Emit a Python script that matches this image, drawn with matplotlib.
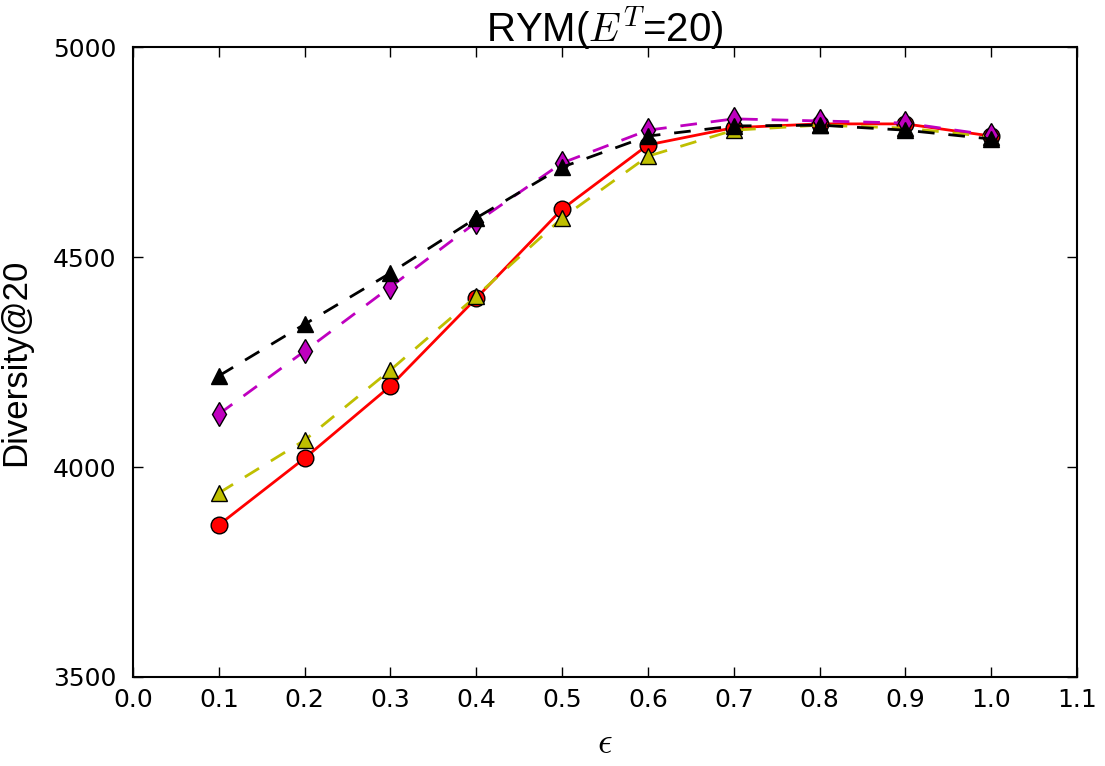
import matplotlib
matplotlib.use("Agg")
import matplotlib.pyplot as plt

plt.rcParams['font.family'] = ['Liberation Sans', 'DejaVu Sans']
plt.rcParams['mathtext.fontset'] = 'cm'

eps = [0.1, 0.2, 0.3, 0.4, 0.5, 0.6, 0.7, 0.8, 0.9, 1.0]
red_vals = [3862, 4021, 4193, 4402, 4614, 4767, 4808, 4817, 4817, 4788]
yellow_vals = [3938, 4064, 4231, 4407, 4593, 4740, 4802, 4814, 4807, 4786]
magenta_vals = [4126, 4276, 4429, 4583, 4724, 4802, 4829, 4824, 4819, 4790]
black_vals = [4217, 4340, 4462, 4593, 4714, 4788, 4812, 4814, 4802, 4781]

xticks = [0.0, 0.1, 0.2, 0.3, 0.4, 0.5, 0.6, 0.7, 0.8, 0.9, 1.0, 1.1]
yticks = [3500, 4000, 4500, 5000]

fig = plt.figure(figsize=(11.05, 7.66), dpi=100)
ax = fig.add_axes([0.1204, 0.1162, 0.8543, 0.8224])

ax.plot(eps, red_vals, 'o-', color='r', lw=2, ms=12, mec='k', mew=1)
ax.plot(eps, yellow_vals, '^--', color='y', lw=2, ms=12, mec='k', mew=1, dashes=(6, 5))
ax.plot(eps, magenta_vals, 'd--', color='m', lw=2, ms=12, mec='k', mew=1, dashes=(6, 5))
ax.plot(eps, black_vals, '^--', color='k', lw=2, ms=12, mec='k', mew=1, dashes=(6, 5))

ax.set_xlim(0.0, 1.1)
ax.set_ylim(3500, 5000)
ax.set_xticks(xticks)
ax.set_xticklabels(["%.1f" % t for t in xticks], family='DejaVu Sans')
ax.set_yticks(yticks)
ax.set_yticklabels([str(t) for t in yticks], family='DejaVu Sans')
ax.tick_params(direction='in', top=True, right=True, labelsize=18, length=7, width=1, pad=8)
ax.tick_params(axis='y', pad=12)
for s in ax.spines.values():
    s.set_linewidth(1.5)

ax.set_title(r'RYM($E^T$=20)', fontsize=29, pad=4)
ax.set_xlabel(r'$\epsilon$', fontsize=26, labelpad=10)
ax.set_ylabel('Diversity@20', fontsize=25, labelpad=15)

fig.savefig('out.png', dpi=100)
